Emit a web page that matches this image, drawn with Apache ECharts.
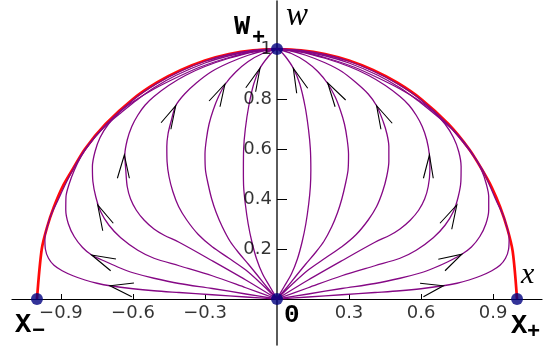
<!DOCTYPE html>
<html><head><meta charset="utf-8">
<script src="https://cdn.jsdelivr.net/npm/echarts@6/dist/echarts.min.js"></script>
<style>html,body{margin:0;padding:0;background:#fff}#c{width:551px;height:347px}</style>
</head><body><div id="c"></div>
<script>
// tick labels
const xTicks = [-0.9, -0.6, -0.3, 0.3, 0.6, 0.9];
const wTicks = [0.2, 0.4, 0.6, 0.8, 1];

// fixed points [x, w]
const fixedPoints = [[0, 1], [0, 0], [-1, 0], [1, 0]];

// boundary (red) right and left
const boundaryR = [[1, 0], [0.982, 0.19], [0.96, 0.28], [0.93, 0.367], [0.895, 0.446], [0.855, 0.516], [0.8, 0.6], [0.714, 0.7], [0.6, 0.8], [0.5, 0.866], [0.4, 0.916], [0.3, 0.954], [0.2, 0.98], [0.1, 0.995], [0, 1]];
const boundaryL = [[-1, 0], [-0.98, 0.2], [-0.957, 0.29], [-0.93, 0.367], [-0.895, 0.446], [-0.853, 0.516], [-0.8, 0.6], [-0.714, 0.7], [-0.6, 0.8], [-0.5, 0.866], [-0.4, 0.916], [-0.3, 0.954], [-0.2, 0.98], [-0.1, 0.995], [0, 1]];

// trajectories, right side
const curveR1 = [[0, 0], [0.03, 0.05], [0.06, 0.1], [0.085, 0.16], [0.105, 0.23], [0.12, 0.3], [0.132, 0.38], [0.139, 0.45], [0.141, 0.516], [0.139, 0.6], [0.131, 0.68], [0.117, 0.77], [0.095, 0.86], [0.068, 0.923], [0.035, 0.97], [0.01, 0.995], [0, 1]];
const curveR2 = [[0, 0], [0.04, 0.045], [0.08, 0.093], [0.12, 0.14], [0.158, 0.183], [0.195, 0.23], [0.228, 0.289], [0.252, 0.345], [0.27, 0.4], [0.285, 0.46], [0.296, 0.516], [0.298, 0.58], [0.292, 0.64], [0.281, 0.7], [0.264, 0.755], [0.242, 0.809], [0.211, 0.862], [0.17, 0.91], [0.12, 0.95], [0.06, 0.982], [0, 1]];
const curveR3 = [[0, 0], [0.07, 0.065], [0.13, 0.116], [0.2, 0.163], [0.27, 0.209], [0.33, 0.258], [0.38, 0.316], [0.415, 0.37], [0.44, 0.43], [0.457, 0.49], [0.466, 0.55], [0.466, 0.61], [0.458, 0.66], [0.443, 0.708], [0.415, 0.773], [0.38, 0.82], [0.33, 0.865], [0.27, 0.91], [0.2, 0.945], [0.12, 0.975], [0.05, 0.994], [0, 1]];
const curveR4 = [[0, 0], [0.13, 0.076], [0.27, 0.153], [0.408, 0.227], [0.47, 0.255], [0.5125, 0.28], [0.555, 0.315], [0.59, 0.355], [0.615, 0.4], [0.63, 0.45], [0.637, 0.516], [0.635, 0.576], [0.624, 0.636], [0.605, 0.69], [0.58, 0.735], [0.55, 0.775], [0.5125, 0.81], [0.45, 0.855], [0.38, 0.895], [0.3, 0.93], [0.2, 0.963], [0.1, 0.988], [0, 1]];
const curveR5 = [[0, 0], [0.13, 0.045], [0.27, 0.093], [0.408, 0.133], [0.5125, 0.163], [0.58, 0.195], [0.651, 0.245], [0.7, 0.295], [0.735, 0.35], [0.755, 0.409], [0.766, 0.47], [0.767, 0.53], [0.757, 0.59], [0.735, 0.646], [0.7, 0.7], [0.651, 0.75], [0.59, 0.795], [0.5125, 0.84], [0.42, 0.885], [0.32, 0.928], [0.21, 0.963], [0.1, 0.99], [0, 1]];
const curveR6 = [[0, 0], [0.13, 0.02], [0.27, 0.042], [0.408, 0.062], [0.5125, 0.083], [0.6, 0.105], [0.651, 0.123], [0.71, 0.148], [0.77, 0.179], [0.81, 0.208], [0.845, 0.25], [0.87, 0.3], [0.882, 0.356], [0.882, 0.41], [0.872, 0.46], [0.852, 0.516], [0.82, 0.572], [0.785, 0.62], [0.74, 0.67], [0.7, 0.705], [0.65, 0.745], [0.585, 0.795], [0.5125, 0.845], [0.42, 0.895], [0.3, 0.944], [0.2, 0.973], [0.1, 0.992], [0, 1]];
const curveR7 = [[0, 0], [0.13, 0.008], [0.27, 0.017], [0.408, 0.026], [0.5125, 0.033], [0.6, 0.041], [0.693, 0.053], [0.75, 0.063], [0.8, 0.076], [0.85, 0.093], [0.895, 0.113], [0.929, 0.135], [0.952, 0.163], [0.965, 0.2], [0.967, 0.245], [0.957, 0.29], [0.94, 0.34], [0.915, 0.39], [0.888, 0.45], [0.857, 0.516], [0.8, 0.597], [0.71, 0.7], [0.595, 0.8], [0.5, 0.862], [0.4, 0.912], [0.3, 0.951], [0.2, 0.978], [0.1, 0.994], [0, 1]];

// trajectories, left side
const curveL1 = [[0, 0], [-0.03, 0.05], [-0.06, 0.1], [-0.085, 0.16], [-0.105, 0.23], [-0.12, 0.3], [-0.132, 0.38], [-0.139, 0.45], [-0.14, 0.516], [-0.139, 0.6], [-0.132, 0.68], [-0.118, 0.77], [-0.097, 0.86], [-0.071, 0.923], [-0.036, 0.97], [-0.01, 0.995], [0, 1]];
const curveL2 = [[0, 0], [-0.04, 0.045], [-0.08, 0.093], [-0.12, 0.14], [-0.158, 0.183], [-0.195, 0.23], [-0.228, 0.289], [-0.253, 0.345], [-0.272, 0.4], [-0.287, 0.46], [-0.298, 0.516], [-0.3, 0.58], [-0.294, 0.64], [-0.283, 0.7], [-0.266, 0.755], [-0.244, 0.809], [-0.215, 0.86], [-0.172, 0.908], [-0.12, 0.95], [-0.06, 0.982], [0, 1]];
const curveL3 = [[0, 0], [-0.07, 0.065], [-0.13, 0.116], [-0.2, 0.163], [-0.27, 0.209], [-0.328, 0.258], [-0.376, 0.316], [-0.41, 0.37], [-0.434, 0.43], [-0.45, 0.49], [-0.458, 0.55], [-0.459, 0.61], [-0.454, 0.66], [-0.442, 0.708], [-0.422, 0.773], [-0.385, 0.82], [-0.335, 0.865], [-0.272, 0.91], [-0.2, 0.945], [-0.12, 0.975], [-0.05, 0.994], [0, 1]];
const curveL4 = [[0, 0], [-0.13, 0.076], [-0.27, 0.153], [-0.408, 0.227], [-0.47, 0.255], [-0.5125, 0.28], [-0.553, 0.315], [-0.586, 0.355], [-0.61, 0.4], [-0.624, 0.45], [-0.63, 0.516], [-0.634, 0.576], [-0.624, 0.636], [-0.605, 0.69], [-0.58, 0.735], [-0.55, 0.775], [-0.5125, 0.81], [-0.45, 0.855], [-0.38, 0.895], [-0.3, 0.93], [-0.2, 0.963], [-0.1, 0.988], [0, 1]];
const curveL5 = [[0, 0], [-0.13, 0.045], [-0.27, 0.093], [-0.408, 0.133], [-0.5125, 0.163], [-0.58, 0.195], [-0.651, 0.245], [-0.7, 0.295], [-0.735, 0.35], [-0.755, 0.409], [-0.767, 0.47], [-0.769, 0.53], [-0.758, 0.59], [-0.737, 0.646], [-0.702, 0.7], [-0.653, 0.75], [-0.59, 0.795], [-0.5125, 0.84], [-0.42, 0.885], [-0.32, 0.928], [-0.21, 0.963], [-0.1, 0.99], [0, 1]];
const curveL6 = [[0, 0], [-0.13, 0.02], [-0.27, 0.042], [-0.408, 0.062], [-0.5125, 0.083], [-0.6, 0.105], [-0.651, 0.123], [-0.71, 0.148], [-0.772, 0.176], [-0.81, 0.206], [-0.845, 0.25], [-0.869, 0.3], [-0.88, 0.356], [-0.879, 0.41], [-0.866, 0.46], [-0.844, 0.516], [-0.815, 0.572], [-0.782, 0.62], [-0.738, 0.67], [-0.7, 0.705], [-0.65, 0.745], [-0.585, 0.795], [-0.5125, 0.845], [-0.42, 0.895], [-0.3, 0.944], [-0.2, 0.973], [-0.1, 0.992], [0, 1]];
const curveL7 = [[0, 0], [-0.13, 0.008], [-0.27, 0.017], [-0.408, 0.026], [-0.5125, 0.033], [-0.6, 0.041], [-0.696, 0.053], [-0.75, 0.063], [-0.8, 0.076], [-0.85, 0.093], [-0.895, 0.113], [-0.929, 0.135], [-0.952, 0.163], [-0.965, 0.2], [-0.967, 0.245], [-0.957, 0.29], [-0.94, 0.34], [-0.915, 0.39], [-0.886, 0.45], [-0.851, 0.516], [-0.8, 0.597], [-0.71, 0.7], [-0.595, 0.8], [-0.5, 0.862], [-0.4, 0.912], [-0.3, 0.951], [-0.2, 0.978], [-0.1, 0.994], [0, 1]];

// arrowheads: [tipX, tipW, wing1X, wing1W, wing2X, wing2W]
const arrows = [
  [0.068, 0.923, 0.128, 0.843, 0.082, 0.823],
  [0.211, 0.865, 0.286, 0.796, 0.242, 0.769],
  [0.415, 0.773, 0.48, 0.703, 0.433, 0.679],
  [0.635, 0.576, 0.61, 0.483, 0.651, 0.483],
  [0.749, 0.376, 0.679, 0.303, 0.728, 0.279],
  [0.77, 0.179, 0.672, 0.159, 0.7, 0.113],
  [0.693, 0.053, 0.596, 0.063, 0.61, 0.009],
  [-0.071, 0.923, -0.13, 0.845, -0.089, 0.829],
  [-0.217, 0.86, -0.283, 0.792, -0.2375, 0.769],
  [-0.422, 0.773, -0.483, 0.705, -0.442, 0.679],
  [-0.636, 0.576, -0.665, 0.483, -0.615, 0.483],
  [-0.747, 0.376, -0.682, 0.303, -0.726, 0.273],
  [-0.772, 0.176, -0.671, 0.16, -0.693, 0.113],
  [-0.696, 0.053, -0.596, 0.064, -0.605, 0.009]
];

const curves = [curveR1, curveR2, curveR3, curveR4, curveR5, curveR6, curveR7, curveL1, curveL2, curveL3, curveL4, curveL5, curveL6, curveL7];

function fmtTick(v) { return v === 1 ? '1' : (v < 0 ? '\u2212' : '') + Math.abs(v).toFixed(1); }
const tickFont = {color: '#000', fontSize: 18, fontFamily: '"DejaVu Sans", sans-serif'};

const chart = echarts.init(document.getElementById('c'), null, {renderer: 'canvas'});
const series = [];
[boundaryR, boundaryL].forEach(function (c) {
  series.push({type: 'line', data: c, smooth: 0.3, showSymbol: false, silent: true,
    lineStyle: {color: '#ff0a0a', width: 2.7}, z: 1});
});
curves.forEach(function (c) {
  series.push({type: 'line', data: c, smooth: 0.3, showSymbol: false, silent: true,
    lineStyle: {color: '#850885', width: 1.3}, z: 2});
});
series.push({
  type: 'custom', data: arrows, silent: true, z: 4,
  encode: {x: [0, 2, 4], y: [1, 3, 5]},
  renderItem: function (params, api) {
    const t = api.coord([api.value(0), api.value(1)]);
    const a = api.coord([api.value(2), api.value(3)]);
    const b = api.coord([api.value(4), api.value(5)]);
    return {type: 'polyline', shape: {points: [a, t, b]}, style: {stroke: '#000', lineWidth: 1.1, fill: null}};
  }
});
series.push({type: 'scatter', data: fixedPoints, symbolSize: 12, silent: true, z: 5,
  itemStyle: {color: '#000080'}});
// tick labels placed through the axes' scales
series.push({type: 'scatter', data: xTicks.map(function (v) { return [v, 0]; }), symbolSize: 0, silent: true, z: 6,
  label: Object.assign({show: true, position: 'bottom', distance: 5, formatter: function (p) { return fmtTick(p.value[0]); }}, tickFont)});
series.push({type: 'scatter', data: wTicks.map(function (v) { return [0, v]; }), symbolSize: 0, silent: true, z: 6,
  label: Object.assign({show: true, position: 'left', distance: 5, formatter: function (p) { return fmtTick(p.value[1]); }}, tickFont)});

const monoBold = {fontFamily: '"Liberation Mono", "DejaVu Sans Mono", monospace', fontWeight: 'bold', fill: '#000'};

chart.setOption({
  animation: false,
  backgroundColor: '#fff',
  grid: {left: 12, right: 9, top: 1, bottom: 2, containLabel: false, outerBoundsMode: 'none'},
  xAxis: {
    type: 'value', min: -1.104, max: 1.104,
    axisLine: {onZero: true, lineStyle: {color: '#000', width: 1.2}},
    axisTick: {show: true, inside: true, length: 5, customValues: xTicks, lineStyle: {color: '#000'}},
    axisLabel: {show: false},
    splitLine: {show: false}
  },
  yAxis: {
    type: 'value', min: -0.184, max: 1.192,
    axisLine: {show: true, onZero: true, lineStyle: {color: '#333', width: 1.6}},
    axisTick: {show: true, inside: true, length: 10, customValues: wTicks, lineStyle: {color: '#000'}},
    axisLabel: {show: false},
    splitLine: {show: false}
  },
  series: series,
  graphic: [
    {type: 'text', left: 234, top: 14, z: 10, style: Object.assign({text: 'W', fontSize: 27}, monoBold)},
    {type: 'text', left: 252, top: 27, z: 10, style: Object.assign({text: '+', fontSize: 22}, monoBold)},
    {type: 'text', left: 15, top: 312, z: 10, style: Object.assign({text: 'X', fontSize: 27}, monoBold)},
    {type: 'text', left: 32, top: 320, z: 10, style: Object.assign({text: '\u2212', fontSize: 22}, monoBold)},
    {type: 'text', left: 511, top: 313, z: 10, style: Object.assign({text: 'X', fontSize: 27}, monoBold)},
    {type: 'text', left: 527, top: 321, z: 10, style: Object.assign({text: '+', fontSize: 22}, monoBold)},
    {type: 'text', left: 284, top: 302, z: 10, style: Object.assign({text: '0', fontSize: 26}, monoBold)},
    {type: 'text', left: 286, top: 0, z: 10, style: {text: 'w', fontSize: 33, fontStyle: 'italic', fontFamily: '"Liberation Serif", serif', fill: '#000'}},
    {type: 'text', left: 521, top: 260, z: 10, style: {text: 'x', fontSize: 30, fontStyle: 'italic', fontFamily: '"Liberation Serif", serif', fill: '#000'}}
  ]
});
</script></body></html>
